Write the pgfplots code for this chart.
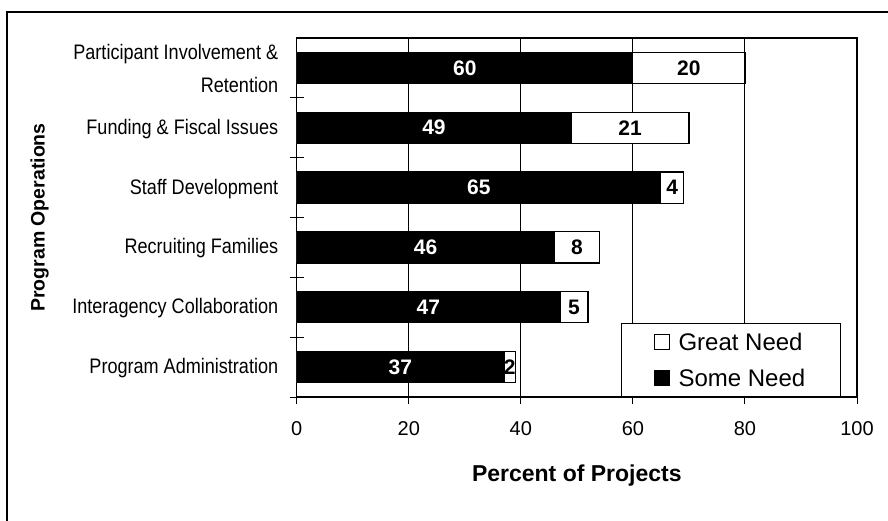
\documentclass[border=0pt]{standalone}
\usepackage{fontspec}
\setmainfont{Liberation Sans}
\newfontfamily\narrowfont{Liberation Sans}[FakeStretch=0.86]
\usepackage{pgfplots}
\usepackage{pgfplotstable}
\pgfplotsset{compat=1.18}

% percent of projects reporting a need, by program operation
\pgfplotstableread{
pos some great
6 60 20
5 49 21
4 65 4
3 46 8
2 47 5
1 37 2
}\needs

\begin{document}
\begin{tikzpicture}
\useasboundingbox (-296.7pt,-123pt) rectangle (591.3pt,397pt);
\draw[line width=1.2pt] (-289.7pt,-140pt) -- (-289.7pt,385pt) -- (610pt,385pt);
\begin{axis}[
    at={(0pt,0pt)}, anchor=south west,
    scale only axis,
    width=560.3pt,
    height=359pt,
    xmin=0, xmax=100,
    ymin=0.5, ymax=6.5,
    % boundary ticks cross the y axis
    tick align=center,
    major tick length=14pt,
    ytick={0.5,1.5,...,5.5},
    yticklabels={},
    extra y ticks={1,...,6},
    extra y tick labels={Program Administration,Interagency Collaboration,Recruiting Families,Staff Development,Funding \& Fiscal Issues,{Participant Involvement \&\\[9pt]Retention}},
    extra y tick style={major tick length=0pt},
    xtick=\empty,
    extra x ticks={0,20,...,100},
    extra x tick style={tick align=outside, major tick length=7pt, grid=major},
    xtick pos=bottom, ytick pos=left,
    every tick/.style={black, line width=1pt},
    major grid style={black, line width=0.9pt},
    axis line style={line width=1.2pt},
    /pgf/number format/assume math mode=true,
    xticklabel style={font=\fontsize{20}{20}\selectfont, yshift=-14pt},
    yticklabel style={font=\narrowfont\fontsize{21}{24}\selectfont, align=right, xshift=-15pt, yshift=-1pt},
    xlabel={Percent of Projects},
    xlabel style={font=\bfseries\fontsize{23}{23}\selectfont, at={(axis description cs:0.5,0)}, anchor=center, yshift=-79pt},
    ylabel={Program Operations},
    ylabel style={font=\bfseries\fontsize{19.5}{20}\selectfont, at={(axis description cs:0,0.5)}, anchor=center, yshift=257pt},
    legend style={at={(0.971,0)}, anchor=south east, draw=black, line width=1pt,
        font=\fontsize{24}{24}\selectfont, inner xsep=33pt, inner ysep=7pt, row sep=13pt},
    legend cell align=left,
]
\addplot[xbar, bar width=0.52, bar shift=0pt, fill=white, draw=black, line width=1.2pt,
    legend image code/.code={\draw[fill=white, draw=black, line width=1pt] (0pt,-7.5pt) rectangle (15pt,7.5pt); \path (21pt,0pt);}]
    table[x expr=\thisrow{some}+\thisrow{great}, y=pos] {\needs};
\addlegendentry{Great Need}
\addplot[xbar, bar width=0.52, bar shift=0pt, fill=black, draw=black, line width=1.2pt,
    legend image code/.code={\draw[fill=black, draw=black, line width=1pt] (0pt,-7.5pt) rectangle (15pt,7.5pt); \path (21pt,0pt);}]
    table[x=some, y=pos] {\needs};
\addlegendentry{Some Need}
\addplot[forget plot, draw=none, mark=none, nodes near coords, point meta=explicit,
    every node near coord/.append style={white, anchor=center, font=\bfseries\fontsize{21}{21}\selectfont}]
    table[x expr=\thisrow{some}/2, y=pos, meta=some] {\needs};
\addplot[forget plot, draw=none, mark=none, nodes near coords, point meta=explicit,
    every node near coord/.append style={black, anchor=center, font=\bfseries\fontsize{21}{21}\selectfont}]
    table[x expr=\thisrow{some}+\thisrow{great}/2, y=pos, meta=great] {\needs};
\end{axis}
\end{tikzpicture}
\end{document}
